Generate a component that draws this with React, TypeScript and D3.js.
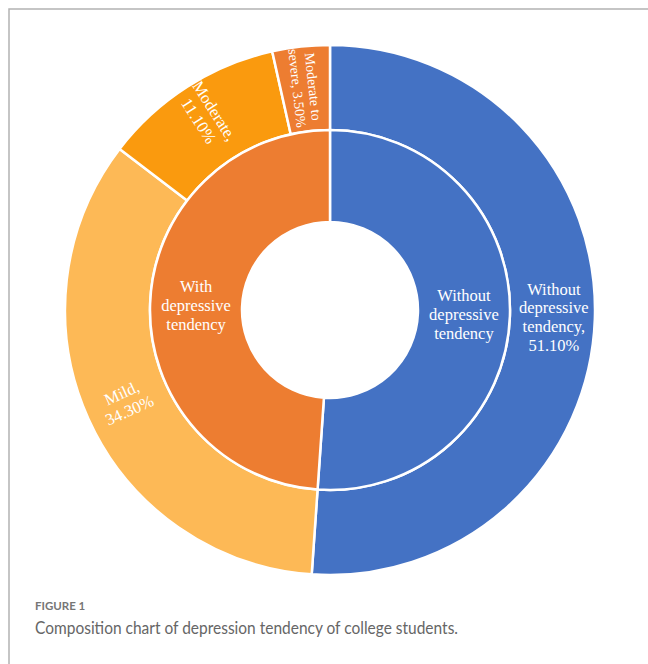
import * as d3 from 'd3';

const WIDTH = 648;
const HEIGHT = 664;
const CX = 330;
const CY = 310;

// inner ring
const innerNames = ['Without depressive tendency', 'With depressive tendency'];
const innerValues = [51.1, 48.9];
const innerColors = ['#4472C4', '#ED7D31'];

// outer ring
const outerNames = ['Without depressive tendency', 'Mild', 'Moderate', 'Moderate to severe'];
const outerValues = [51.1, 34.3, 11.1, 3.5];
const outerColors = ['#4472C4', '#FDB956', '#FA9A0E', '#ED7D31'];
const outerLabels = [
  ['Without', 'depressive', 'tendency,', '51.10%'],
  ['Mild,', '34.30%'],
  ['Moderate,', '11.10%'],
  ['Moderate to', 'severe, 3.50%'],
];
const innerLabels = [
  ['Without', 'depressive', 'tendency'],
  ['With', 'depressive', 'tendency'],
];

const R_HOLE = 88;
const R_MID = 180;
const R_OUT = 265;

const App = () => {
  const pie = d3.pie<number>().sort(null).value((d) => d);
  const innerArcs = pie(innerValues);
  const outerArcs = pie(outerValues);

  const innerArc = d3.arc<d3.PieArcDatum<number>>().innerRadius(R_HOLE).outerRadius(R_MID);
  const outerArc = d3.arc<d3.PieArcDatum<number>>().innerRadius(R_MID).outerRadius(R_OUT);

  const lineH = 18.8;
  const fontSize = 16.5;

  return (
    <div style={{ position: 'absolute', left: 0, top: 0 }}>
      <svg width={WIDTH} height={HEIGHT} style={{ display: 'block' }}>
        <rect width={WIDTH} height={HEIGHT} fill="#fff" />
        <path d={`M9,${HEIGHT} L9,9 L${WIDTH},9`} fill="none" stroke="#b3b3b3" strokeWidth={1.5} />
        <g transform={`translate(${CX},${CY})`}>
          {outerArcs.map((a, i) => (
            <path key={'o' + i} d={outerArc(a) || ''} fill={outerColors[i]} stroke="#fff" strokeWidth={2.5} />
          ))}
          {innerArcs.map((a, i) => (
            <path key={'i' + i} d={innerArc(a) || ''} fill={innerColors[i]} stroke="#fff" strokeWidth={2.5} />
          ))}
          {innerArcs.map((a, i) => {
            const [x, y] = innerArc.centroid(a);
            const lines = innerLabels[i];
            return (
              <text
                key={'il' + i}
                transform={`translate(${x},${y})`}
                textAnchor="middle"
                fill="#fff"
                fontFamily="'Liberation Serif', serif"
                fontSize={fontSize}
              >
                {lines.map((l, j) => (
                  <tspan key={j} x={0} y={(j - (lines.length - 1) / 2) * lineH + 5.5}>
                    {l}
                  </tspan>
                ))}
              </text>
            );
          })}
          {outerArcs.map((a, i) => {
            const mid = (a.startAngle + a.endAngle) / 2;
            const r = i === 2 ? 230 : 224;
            const x = r * Math.sin(mid);
            const y = -r * Math.cos(mid);
            const deg = (mid * 180) / Math.PI;
            const rot = i === 0 ? 0 : deg - 270;
            const lines = outerLabels[i];
            const small = i === 3;
            const lh = small ? 16 : lineH;
            return (
              <text
                key={'ol' + i}
                transform={`translate(${x},${y}) rotate(${rot})`}
                textAnchor="middle"
                fill="#fff"
                fontFamily="'Liberation Serif', serif"
                fontSize={small ? 14 : fontSize}
              >
                {lines.map((l, j) => (
                  <tspan key={j} x={0} y={(j - (lines.length - 1) / 2) * lh + 5}>
                    {l}
                  </tspan>
                ))}
              </text>
            );
          })}
        </g>
        <text x={35} y={610} fill="#767676" fontFamily="Lato, sans-serif" fontWeight={700} fontSize={11.5}>
          FIGURE 1
        </text>
        <text
          x={35}
          y={634}
          fill="#666"
          fontFamily="Lato, sans-serif"
          fontSize={16.5}
          textLength={423}
          lengthAdjust="spacingAndGlyphs"
        >
          Composition chart of depression tendency of college students.
        </text>
      </svg>
    </div>
  );
};

export default App;
